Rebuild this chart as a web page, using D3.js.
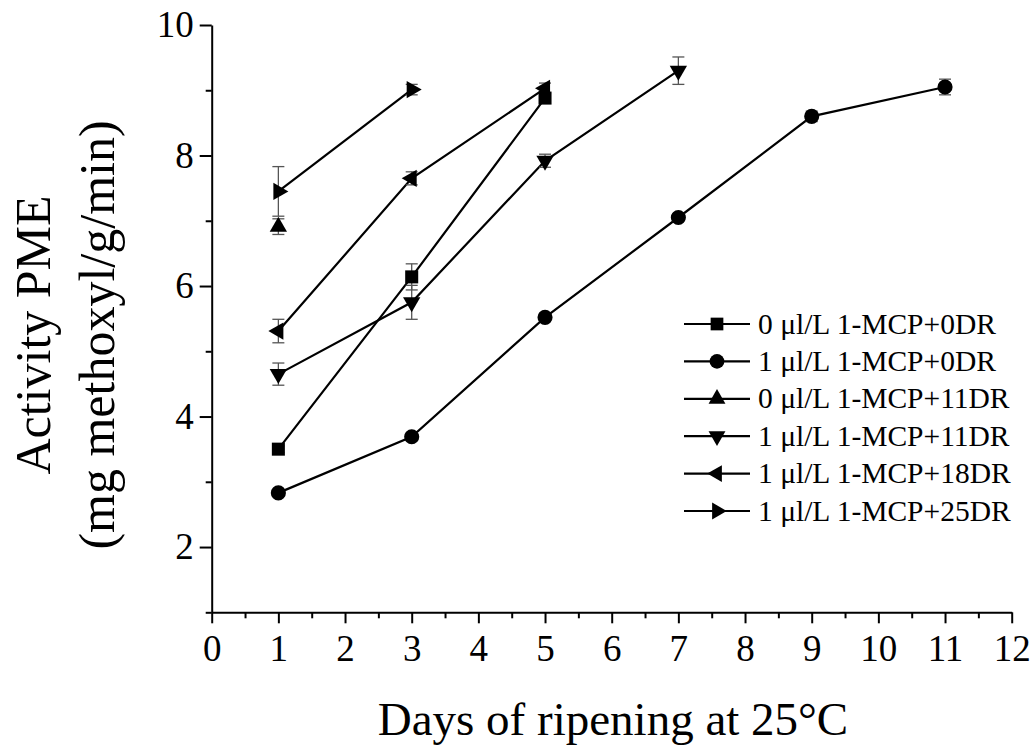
<!DOCTYPE html>
<html>
<head>
<meta charset="utf-8">
<script src="https://cdn.jsdelivr.net/npm/d3@7"></script>
<style>
  body { margin: 0; background: #fff; }
  svg text { font-family: "Liberation Serif", "Times New Roman", serif; fill: #000; }
</style>
</head>
<body>
<div id="chart"></div>
<script>
// Series data (day, mean, error)
var seriesNames = [
  "0 \u03bcl/L 1-MCP+0DR",
  "1 \u03bcl/L 1-MCP+0DR",
  "0 \u03bcl/L 1-MCP+11DR",
  "1 \u03bcl/L 1-MCP+11DR",
  "1 \u03bcl/L 1-MCP+18DR",
  "1 \u03bcl/L 1-MCP+25DR"
];
var sqDays = [1, 3, 5];
var sqVals = [3.5, 6.14, 8.88];
var sqErr = [0.05, 0.2, 0.08];

var ciDays = [1, 3, 5, 7, 9, 11];
var ciVals = [2.83, 3.69, 5.52, 7.05, 8.6, 9.05];
var ciErr = [0.05, 0.06, 0.06, 0.06, 0.08, 0.12];

var upDays = [1];
var upVals = [6.91];
var upErr = [0.12];

var dnDays = [1, 3, 5, 7];
var dnVals = [4.65, 5.75, 7.92, 9.3];
var dnErr = [0.17, 0.26, 0.1, 0.21];

var ltDays = [1, 3, 5];
var ltVals = [5.31, 7.65, 9.03];
var ltErr = [0.18, 0.1, 0.08];

var rtDays = [1, 3];
var rtVals = [7.45, 9.01];
var rtErr = [0.38, 0.08];

var xMajor = [0, 1, 2, 3, 4, 5, 6, 7, 8, 9, 10, 11, 12];
var xMinor = [0.5, 1.5, 2.5, 3.5, 4.5, 5.5, 6.5, 7.5, 8.5, 9.5, 10.5, 11.5];
var yMajor = [2, 4, 6, 8, 10];
var yMinor = [1, 3, 5, 7, 9];

// Build series list for drawing
function pack(days, vals, errs) {
    return days.map(function(d, i) { return {x: d, y: vals[i], e: errs[i]}; });
}
var series = [
    {name: seriesNames[0], shape: d3.symbolSquare, size: 170, rot: 0, pts: pack(sqDays, sqVals, sqErr)},
    {name: seriesNames[1], shape: d3.symbolCircle, size: 180, rot: 0, pts: pack(ciDays, ciVals, ciErr)},
    {name: seriesNames[2], shape: d3.symbolTriangle, size: 130, rot: 0, pts: pack(upDays, upVals, upErr)},
    {name: seriesNames[3], shape: d3.symbolTriangle, size: 130, rot: 180, pts: pack(dnDays, dnVals, dnErr)},
    {name: seriesNames[4], shape: d3.symbolTriangle, size: 130, rot: -90, pts: pack(ltDays, ltVals, ltErr)},
    {name: seriesNames[5], shape: d3.symbolTriangle, size: 130, rot: 90, pts: pack(rtDays, rtVals, rtErr)}
];

var W = 1034, H = 746;
var svg = d3.select("#chart").append("svg")
    .attr("width", W)
    .attr("height", H);

var x = d3.scaleLinear().domain([0, 12]).range([211.7, 1011.7]);
var y = d3.scaleLinear().domain([1, 10]).range([612.3, 25]);

// Axes
var xAxis = svg.append("g")
    .attr("transform", "translate(0," + y(1) + ")")
    .call(d3.axisBottom(x).tickValues(xMajor).tickSize(11).tickSizeOuter(0).tickPadding(11));
var xAxisMinor = svg.append("g")
    .attr("transform", "translate(0," + y(1) + ")")
    .call(d3.axisBottom(x).tickValues(xMinor).tickSize(6).tickFormat(""));
xAxisMinor.select(".domain").remove();

var yAxis = svg.append("g")
    .attr("transform", "translate(" + x(0) + ",0)")
    .call(d3.axisLeft(y).tickValues(yMajor).tickSize(12).tickSizeOuter(0).tickPadding(6));
var yAxisMinor = svg.append("g")
    .attr("transform", "translate(" + x(0) + ",0)")
    .call(d3.axisLeft(y).tickValues(yMinor).tickSize(6).tickFormat(""));
yAxisMinor.select(".domain").remove();

svg.selectAll(".domain, .tick line")
    .attr("stroke", "#000")
    .attr("stroke-width", 2);
svg.selectAll(".tick text")
    .style("font-family", "'Liberation Serif', 'Times New Roman', serif")
    .style("font-size", "37px")
    .attr("fill", "#000");
xAxis.selectAll(".tick text").attr("dy", "0.71em");

// Axis titles
svg.append("text")
    .attr("x", 613)
    .attr("y", 735)
    .style("font-size", "47px")
    .style("text-anchor", "middle")
    .text("Days of ripening at 25\u00b0C");

var yTitle = svg.append("g")
    .attr("transform", "translate(0,335) rotate(-90)");
yTitle.append("text")
    .attr("x", 0)
    .attr("y", 50)
    .style("font-size", "50px")
    .style("text-anchor", "middle")
    .text("Activity PME");
yTitle.append("text")
    .attr("x", 0)
    .attr("y", 114)
    .style("font-size", "50px")
    .style("text-anchor", "middle")
    .text("(mg methoxyl/g/min)");

// Lines
var line = d3.line()
    .x(function(d) { return x(d.x); })
    .y(function(d) { return y(d.y); });

var plot = svg.append("g");
series.forEach(function(s) {
    if (s.pts.length > 1) {
        plot.append("path")
            .datum(s.pts)
            .attr("d", line)
            .attr("fill", "none")
            .attr("stroke", "#000")
            .attr("stroke-width", 2.2);
    }
});

// Error bars
series.forEach(function(s) {
    var eb = plot.selectAll(null).data(s.pts).enter().append("g");
    eb.append("line")
        .attr("x1", function(d) { return x(d.x); })
        .attr("x2", function(d) { return x(d.x); })
        .attr("y1", function(d) { return y(d.y + d.e); })
        .attr("y2", function(d) { return y(d.y - d.e); });
    eb.append("line")
        .attr("x1", function(d) { return x(d.x) - 6; })
        .attr("x2", function(d) { return x(d.x) + 6; })
        .attr("y1", function(d) { return y(d.y + d.e); })
        .attr("y2", function(d) { return y(d.y + d.e); });
    eb.append("line")
        .attr("x1", function(d) { return x(d.x) - 6; })
        .attr("x2", function(d) { return x(d.x) + 6; })
        .attr("y1", function(d) { return y(d.y - d.e); })
        .attr("y2", function(d) { return y(d.y - d.e); });
    eb.selectAll("line")
        .attr("stroke", "#555")
        .attr("stroke-width", 1.3);
});

// Markers
series.forEach(function(s) {
    var sym = d3.symbol().type(s.shape).size(s.size);
    plot.selectAll(null).data(s.pts).enter().append("path")
        .attr("d", sym)
        .attr("transform", function(d) {
            return "translate(" + x(d.x) + "," + y(d.y) + ") rotate(" + s.rot + ")";
        })
        .attr("fill", "#000");
});

// Legend
var legend = svg.append("g");
series.forEach(function(s, i) {
    var ly = 324 + i * 37.4;
    legend.append("line")
        .attr("x1", 684).attr("x2", 750)
        .attr("y1", ly).attr("y2", ly)
        .attr("stroke", "#000")
        .attr("stroke-width", 2.2);
    legend.append("path")
        .attr("d", d3.symbol().type(s.shape).size(s.size * 0.95))
        .attr("transform", "translate(717," + ly + ") rotate(" + s.rot + ")")
        .attr("fill", "#000");
    legend.append("text")
        .attr("x", 758)
        .attr("y", ly + 9.5)
        .style("font-size", "29.5px")
        .text(s.name);
});
</script>
</body>
</html>
